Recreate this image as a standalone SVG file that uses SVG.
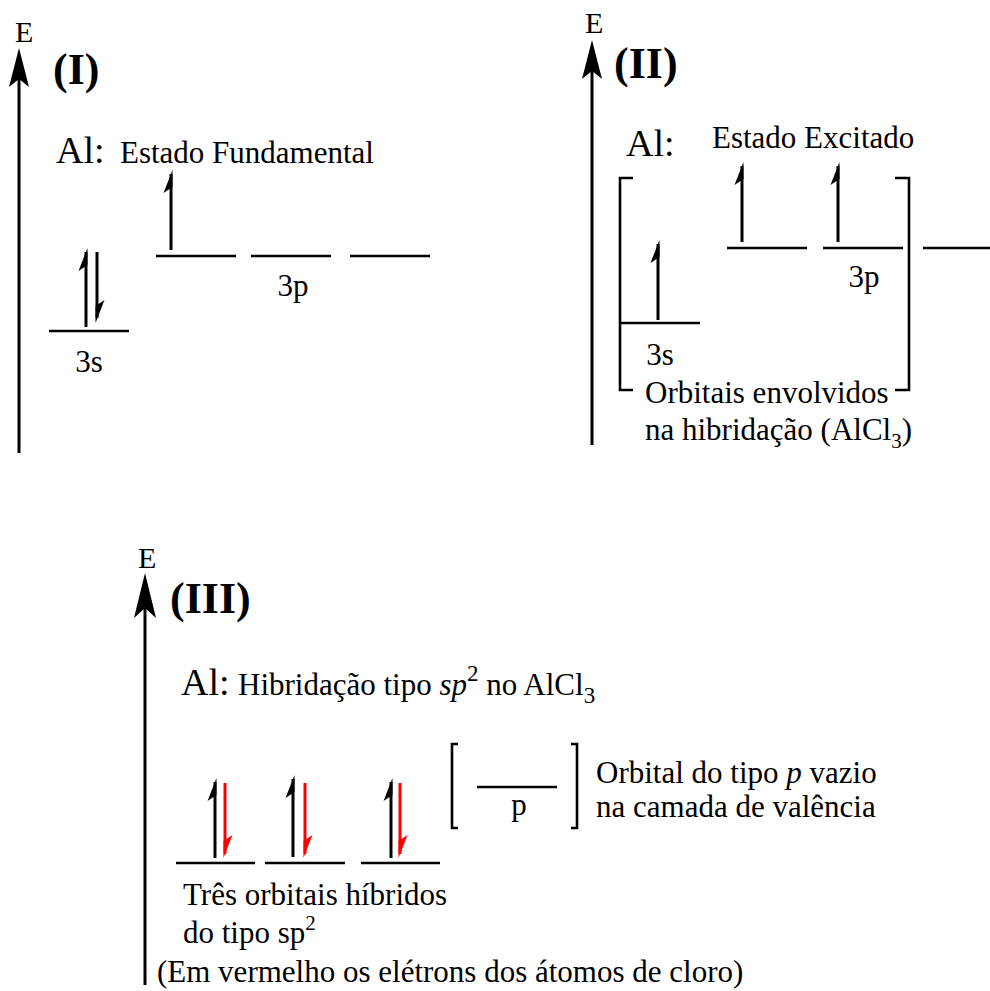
<svg xmlns="http://www.w3.org/2000/svg" xmlns:xlink="http://www.w3.org/1999/xlink" width="990" height="991" viewBox="0 0 990 991">
<style>
text{font-family:"Liberation Serif","Times New Roman",serif;fill:#000}
.t{font-size:31px}
.al{font-size:38px}
.e{font-size:30px}
.h{font-size:44px;font-weight:bold}
.lv{stroke:#000;stroke-width:2.6;fill:none}
.ax{stroke:#000;stroke-width:3;fill:none}
.sh{stroke:#000;stroke-width:3}
.shr{stroke:#f00;stroke-width:3}
.br{stroke:#000;stroke-width:2.6;fill:none}
</style>
<defs>
<path id="axh" d="M0,0 L10,39 L0,31 L-10,39 Z"/>
<path id="bu" d="M1.5,0 L-7.5,23 L1.5,17 Z"/>
<path id="bd" d="M-1.5,0 L7.5,-23 L-1.5,-17 Z"/>
</defs>
<rect width="990" height="991" fill="#fff"/>

<g id="panel1">
 <g id="axis1">
  <line class="ax" x1="19" y1="453" x2="19" y2="75"/>
  <use xlink:href="#axh" x="19" y="48"/>
  <text class="e" x="15" y="42">E</text>
 </g>
 <text class="h" x="53" y="84">(I)</text>
 <text class="al" x="56" y="163">Al:</text>
 <text class="t" x="120" y="163">Estado Fundamental</text>
 <g id="s1">
  <line class="lv" x1="49" y1="331" x2="129" y2="331"/>
  <line class="sh" x1="86" y1="327" x2="86" y2="252"/>
  <use xlink:href="#bu" x="86" y="248"/>
  <line class="sh" x1="97" y1="252" x2="97" y2="318"/>
  <use xlink:href="#bd" x="97" y="323"/>
  <text class="t" x="89" y="372" text-anchor="middle">3s</text>
 </g>
 <g id="p1">
  <line class="lv" x1="156" y1="256" x2="236" y2="256"/>
  <line class="lv" x1="251" y1="256" x2="331" y2="256"/>
  <line class="lv" x1="350" y1="256" x2="430" y2="256"/>
  <line class="sh" x1="171" y1="250" x2="171" y2="174"/>
  <use xlink:href="#bu" x="171" y="170"/>
  <text class="t" x="293" y="296" text-anchor="middle">3p</text>
 </g>
</g>

<g id="panel2">
 <g id="axis2">
  <line class="ax" x1="592" y1="445" x2="592" y2="67"/>
  <use xlink:href="#axh" x="592" y="40"/>
  <text class="e" x="585" y="33">E</text>
 </g>
 <text class="h" x="614" y="78">(II)</text>
 <text class="al" x="626" y="156">Al:</text>
 <text class="t" x="712" y="148">Estado Excitado</text>
 <path class="br" d="M633,178 H620 V390 H633"/>
 <path class="br" d="M895,178 H909 V390 H895"/>
 <g id="s2">
  <line class="lv" x1="620" y1="323" x2="700" y2="323"/>
  <line class="sh" x1="658" y1="320" x2="658" y2="244"/>
  <use xlink:href="#bu" x="658" y="240"/>
  <text class="t" x="660" y="365" text-anchor="middle">3s</text>
 </g>
 <g id="p2">
  <line class="lv" x1="727" y1="248" x2="807" y2="248"/>
  <line class="lv" x1="823" y1="248" x2="903" y2="248"/>
  <line class="lv" x1="923" y1="248" x2="990" y2="248"/>
  <line class="sh" x1="742" y1="242" x2="742" y2="166"/>
  <use xlink:href="#bu" x="742" y="162"/>
  <line class="sh" x1="838" y1="242" x2="838" y2="166"/>
  <use xlink:href="#bu" x="838" y="162"/>
  <text class="t" x="864" y="287" text-anchor="middle">3p</text>
 </g>
 <text class="t" x="645" y="403">Orbitais envolvidos</text>
 <text class="t" x="645" y="440">na hibridação (AlCl<tspan font-size="21" dy="8">3</tspan><tspan dy="-8">)</tspan></text>
</g>

<g id="panel3">
 <g id="axis3">
  <line class="ax" x1="145" y1="985" x2="145" y2="605"/>
  <path d="M145,573 L156,618 L145,608 L134,618 Z"/>
  <text class="e" x="138" y="568">E</text>
 </g>
 <text class="h" x="170" y="613">(III)</text>
 <text class="al" x="181" y="695" font-size="40">Al:</text>
 <text class="t" x="238" y="695" font-size="33">Hibridação tipo <tspan font-style="italic">sp</tspan><tspan font-size="23" dy="-14">2</tspan><tspan dy="14"> no AlCl</tspan><tspan font-size="23" dy="8">3</tspan></text>
 <g id="sp2">
  <line class="lv" x1="176" y1="863" x2="255" y2="863"/>
  <line class="lv" x1="265" y1="863" x2="345" y2="863"/>
  <line class="lv" x1="361" y1="863" x2="440" y2="863"/>
  <line class="sh" x1="215" y1="858" x2="215" y2="782"/>
  <use xlink:href="#bu" x="215" y="778"/>
  <line class="sh" x1="293" y1="857" x2="293" y2="779"/>
  <use xlink:href="#bu" x="293" y="775"/>
  <line class="sh" x1="391" y1="858" x2="391" y2="782"/>
  <use xlink:href="#bu" x="391" y="778"/>
  <g fill="#f00">
   <line class="shr" x1="225" y1="783" x2="225" y2="854"/>
   <use xlink:href="#bd" x="225" y="858"/>
   <line class="shr" x1="305" y1="783" x2="305" y2="854"/>
   <use xlink:href="#bd" x="305" y="858"/>
   <line class="shr" x1="400" y1="783" x2="400" y2="854"/>
   <use xlink:href="#bd" x="400" y="858"/>
  </g>
 </g>
 <g id="pv">
  <path class="br" d="M458,744 H452 V828 H458"/>
  <path class="br" d="M571,744 H577 V828 H571"/>
  <line class="lv" x1="477" y1="787" x2="557" y2="787"/>
  <text class="t" x="519" y="815" text-anchor="middle">p</text>
 </g>
 <text class="t" x="596" y="783">Orbital do tipo <tspan font-style="italic">p</tspan> vazio</text>
 <text class="t" x="596" y="817">na camada de valência</text>
 <text class="t" x="183" y="905">Três orbitais híbridos</text>
 <text class="t" x="183" y="943">do tipo sp<tspan font-size="21" dy="-13">2</tspan></text>
 <text class="t" x="157" y="982">(Em vermelho os elétrons dos átomos de cloro)</text>
</g>
</svg>
